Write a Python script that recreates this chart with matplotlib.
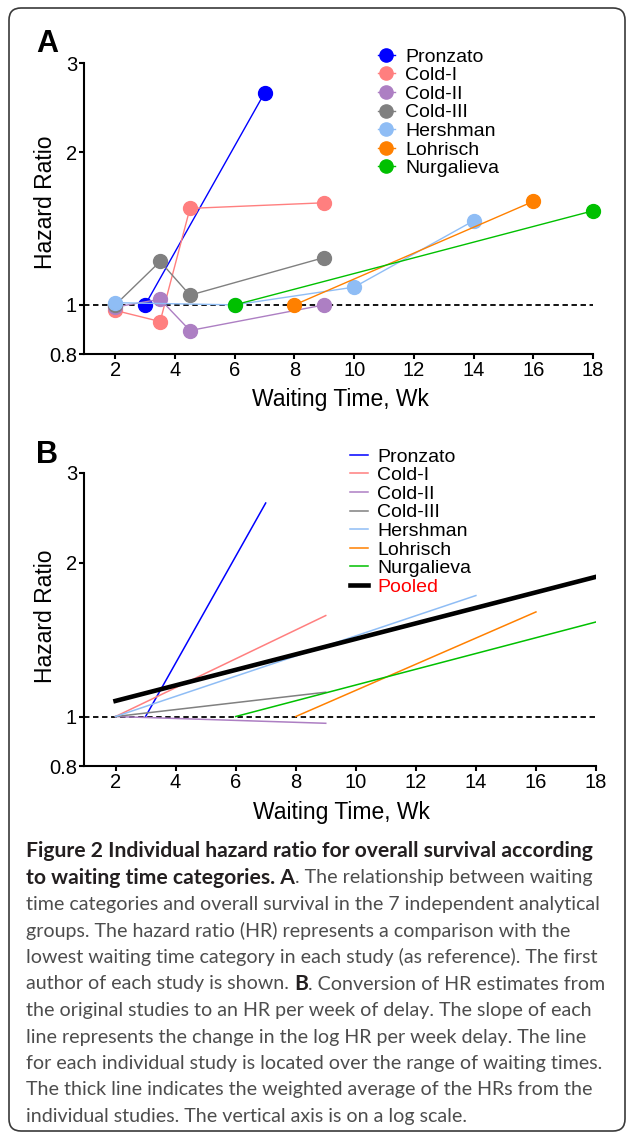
import matplotlib
matplotlib.use('Agg')
import matplotlib.pyplot as plt
from matplotlib.patches import FancyBboxPatch
from matplotlib.ticker import NullLocator

plt.rcParams['font.family'] = ['Liberation Sans', 'DejaVu Sans']

# ---------------- data ----------------
studies = ['Pronzato', 'Cold-I', 'Cold-II', 'Cold-III', 'Hershman', 'Lohrisch', 'Nurgalieva']
colors = ['#0000ff', '#ff7f7f', '#ad7fc3', '#808080', '#8fbdf5', '#ff8000', '#00c000']

# Panel A: category waiting times (weeks) and hazard ratios
pronzato_wk = [3, 7]
pronzato_hr = [1.0, 2.62]
cold1_wk = [2, 3.5, 4.5, 9]
cold1_hr = [0.975, 0.927, 1.55, 1.59]
cold2_wk = [2, 3.5, 4.5, 9]
cold2_hr = [0.99, 1.026, 0.89, 1.0]
cold3_wk = [2, 3.5, 4.5, 9]
cold3_hr = [1.0, 1.218, 1.045, 1.24]
hershman_wk = [2, 6, 10, 14]
hershman_hr = [1.01, 1.0, 1.084, 1.465]
lohrisch_wk = [8, 16]
lohrisch_hr = [1.0, 1.60]
nurgalieva_wk = [6, 18]
nurgalieva_hr = [1.0, 1.533]

# Panel B: per-week HR lines (start / end)
b_start_wk = [3, 2, 2, 2, 2, 8, 6]
b_end_wk = [7, 9, 9, 9, 14, 16, 18]
b_start_hr = [1.0, 1.0, 1.0, 1.0, 1.0, 1.0, 1.0]
b_end_hr = [2.62, 1.577, 0.970, 1.116, 1.726, 1.603, 1.532]
pooled_wk = [2, 18]
pooled_hr = [1.073, 1.878]

x_ticks = [2, 4, 6, 8, 10, 12, 14, 16, 18]
y_ticks = [0.8, 1, 2, 3]
y_ticklabels = ['0.8', '1', '2', '3']

caption_lines = [
    [("Figure 2 Individual hazard ratio for overall survival according", True)],
    [("to waiting time categories. A", True), (". The relationship between waiting", False)],
    [("time categories and overall survival in the 7 independent analytical", False)],
    [("groups. The hazard ratio (HR) represents a comparison with the", False)],
    [("lowest waiting time category in each study (as reference). The first", False)],
    [("author of each study is shown. ", False), ("B", True), (". Conversion of HR estimates from", False)],
    [("the original studies to an HR per week of delay. The slope of each", False)],
    [("line represents the change in the log HR per week delay. The line", False)],
    [("for each individual study is located over the range of waiting times.", False)],
    [("The thick line indicates the weighted average of the HRs from the", False)],
    [("individual studies. The vertical axis is on a log scale.", False)],
]

panel_a_wk = [pronzato_wk, cold1_wk, cold2_wk, cold3_wk, hershman_wk, lohrisch_wk, nurgalieva_wk]
panel_a_hr = [pronzato_hr, cold1_hr, cold2_hr, cold3_hr, hershman_hr, lohrisch_hr, nurgalieva_hr]

W, H = 627, 1133
fig = plt.figure(figsize=(W / 100, H / 100), dpi=100)


def fpos(l, t, r, b):
    return [l / W, 1 - b / H, (r - l) / W, (b - t) / H]


def style(ax, label_y):
    ax.set_yscale('log')
    ax.set_ylim(0.8, 3)
    ax.set_xlim(0.95, 18)
    ax.set_yticks(y_ticks)
    ax.set_yticklabels(y_ticklabels)
    ax.yaxis.set_minor_locator(NullLocator())
    ax.set_xticks(x_ticks)
    for s in ['top', 'right']:
        ax.spines[s].set_visible(False)
    for s in ['left', 'bottom']:
        ax.spines[s].set_linewidth(1.5)
    ax.tick_params(axis='both', length=3.5, width=1.5, labelsize=14.5, pad=1.5, direction='out')
    ax.set_xlabel('Waiting Time, Wk', fontsize=16.5)
    ax.set_ylabel('Hazard Ratio', fontsize=16.5)
    ax.xaxis.set_label_coords(0.503, -0.118)
    ax.yaxis.set_label_coords(-0.053, label_y)
    ax.axhline(1, color='black', lw=1.3, ls=(0, (3, 2)), zorder=1)


# ---------------- panel A ----------------
axA = fig.add_axes(fpos(84, 63, 593, 354))
style(axA, 0.52)
for name, c, wk, hr in zip(studies, colors, panel_a_wk, panel_a_hr):
    axA.plot(wk, hr, '-o', color=c, lw=1.0, ms=10, label=name, clip_on=False, zorder=3)
legA = axA.legend(loc='upper left', bbox_to_anchor=(378 / W, 1 - 48 / H), bbox_transform=fig.transFigure,
                  frameon=False, fontsize=14, handlelength=0.85, handletextpad=0.55, labelspacing=0.05,
                  borderpad=0, borderaxespad=0, markerscale=0.95)
fig.text(36 / W, 1 - 52 / H, 'A', fontsize=22, fontweight='bold', va='baseline', ha='left')

# ---------------- panel B ----------------
axB = fig.add_axes(fpos(84, 473, 596, 766))
style(axB, 0.51)
for name, c, x0, x1, y0, y1 in zip(studies, colors, b_start_wk, b_end_wk, b_start_hr, b_end_hr):
    axB.plot([x0, x1], [y0, y1], '-', color=c, lw=1.1, label=name, zorder=3)
axB.plot(pooled_wk, pooled_hr, '-', color='black', lw=3.3, label='Pooled', zorder=4)
legB = axB.legend(loc='upper left', bbox_to_anchor=(350 / W, 1 - 448 / H), bbox_transform=fig.transFigure,
                  frameon=False, fontsize=14, handlelength=0.95, handletextpad=0.45, labelspacing=0.05,
                  borderpad=0, borderaxespad=0)
for t in legB.get_texts():
    if t.get_text() == 'Pooled':
        t.set_color('#ff0000')
fig.text(36 / W, 1 - 463 / H, 'B', fontsize=22, fontweight='bold', va='baseline', ha='left')

# ---------------- border + caption ----------------
ov = fig.add_axes([0, 0, 1, 1])
ov.set_xlim(0, W)
ov.set_ylim(H, 0)
ov.axis('off')
ov.add_patch(FancyBboxPatch((9, 8), 616, 1123, boxstyle='round,pad=0,rounding_size=12',
                            fc='none', ec='#3a3a3a', lw=1.2))

renderer = fig.canvas.get_renderer()
cap_font = 'Lato'


def text_w(s, bold, fs):
    kw = dict(fontsize=fs, family=[cap_font, 'DejaVu Sans'], fontweight='bold' if bold else 'normal')
    t1 = ov.text(0, 0, 'x' + s + 'x', **kw)
    t2 = ov.text(0, 0, 'xx', **kw)
    w = t1.get_window_extent(renderer).width - t2.get_window_extent(renderer).width
    t1.remove()
    t2.remove()
    return w


bold_fs = 10 * 569 / text_w(caption_lines[0][0][0], True, 10)
reg_fs = 10 * 578 / text_w(caption_lines[8][0][0], False, 10)
base0 = 857
lead = 26.5
for i, pieces in enumerate(caption_lines):
    x = 26
    y = base0 + i * lead
    for s, bold in pieces:
        fs = bold_fs if bold else reg_fs
        ov.text(x, y, s, fontsize=fs, family=[cap_font, 'DejaVu Sans'],
                fontweight='bold' if bold else 'normal', color='#231f20' if bold else '#4d4d4d',
                va='baseline', ha='left')
        x += text_w(s, bold, fs)

fig.savefig('out.png', dpi=100)
